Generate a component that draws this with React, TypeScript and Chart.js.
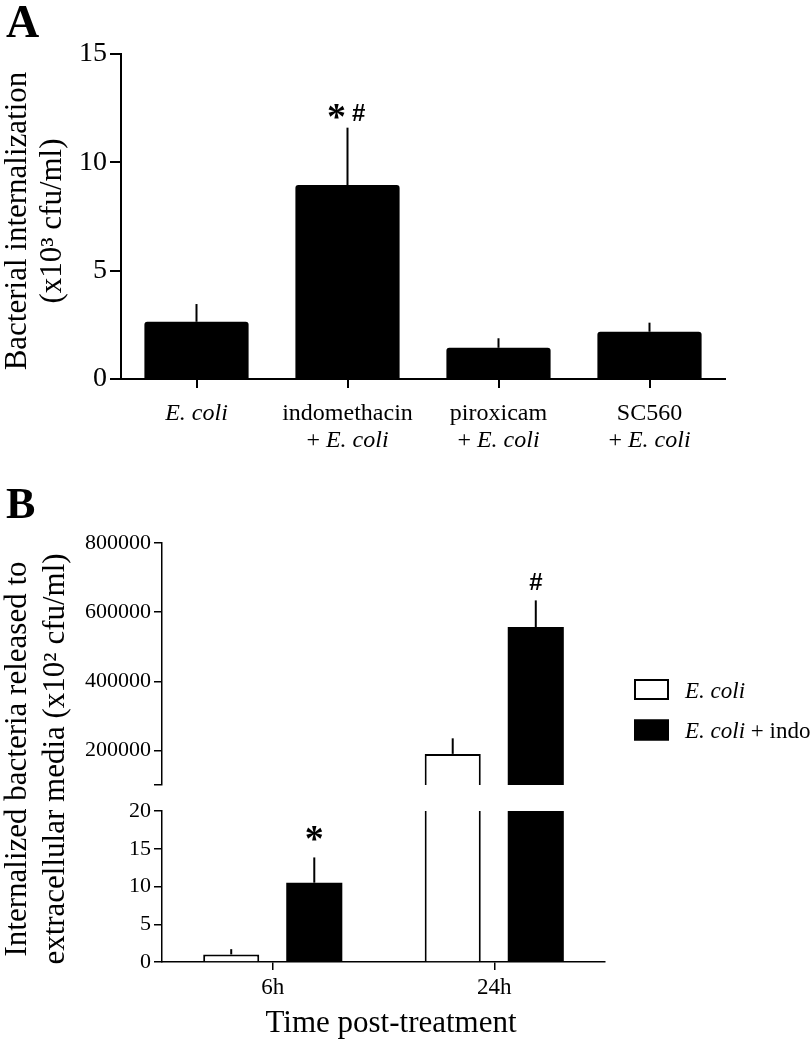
import React, { useEffect, useRef } from "react";
import { Chart, registerables } from "chart.js";

Chart.register(...registerables);

const SERIF = "'Liberation Serif', 'Times New Roman', serif";
const SANS = "'Liberation Sans', Arial, sans-serif";

// ---------- Panel A data ----------
// underscores mark italic runs, "\n" splits label lines
const aCategories = ["_E. coli_", "indomethacin\n+ _E. coli_", "piroxicam\n+ _E. coli_", "SC560\n+ _E. coli_"];
const aValues = [2.64, 8.95, 1.44, 2.18];
const aErrors = [0.82, 2.65, 0.44, 0.42];
const aMarks = ["", "*#", "", ""];
const aTicks = [0, 5, 10, 15];
const aTitle = ["Bacterial internalization", "(x10³ cfu/ml)"];

// ---------- Panel B data ----------
const bCategories = ["6h", "24h"];
const bSeries = ["_E. coli_", "_E. coli_ + indo"];
const bEcoli = [1.0, 190000];
const bEcoliErr = [0.7, 45000];
const bIndo = [10.5, 557000];
const bIndoErr = [3.35, 77000];
const bEcoliMarks = ["", ""];
const bIndoMarks = ["*", "#"];
const bUpperRange = [100000, 800000];
const bUpperTicks = [200000, 400000, 600000, 800000];
const bLowerRange = [0, 20];
const bLowerTicks = [0, 5, 10, 15, 20];
const bTitle = ["Internalized bacteria released to", "extracellular media (x10² cfu/ml)"];
const bXTitle = "Time post-treatment";

// ---------- helpers ----------
function richWidth(ctx: CanvasRenderingContext2D, text: string, size: number) {
  let w = 0;
  text.split("_").forEach((p, i) => {
    ctx.font = `${i % 2 ? "italic " : ""}${size}px ${SERIF}`;
    w += ctx.measureText(p).width;
  });
  return w;
}

function drawRich(ctx: CanvasRenderingContext2D, text: string, x: number, y: number, size: number, align: "center" | "left") {
  const w = richWidth(ctx, text, size);
  let cx = align === "center" ? x - w / 2 : x;
  ctx.textAlign = "left";
  ctx.textBaseline = "alphabetic";
  text.split("_").forEach((p, i) => {
    ctx.font = `${i % 2 ? "italic " : ""}${size}px ${SERIF}`;
    ctx.fillText(p, cx, y);
    cx += ctx.measureText(p).width;
  });
}

function drawRotatedTitle(ctx: CanvasRenderingContext2D, lines: string[], baselines: number[], cy: number, size: number) {
  lines.forEach((line, i) => {
    ctx.save();
    ctx.translate(baselines[i], cy);
    ctx.rotate(-Math.PI / 2);
    ctx.font = `${size}px ${SERIF}`;
    ctx.fillStyle = "#000";
    ctx.textAlign = "center";
    ctx.textBaseline = "alphabetic";
    ctx.fillText(line, 0, 0);
    ctx.restore();
  });
}

const GLYPH_FONT: Record<string, string> = {
  "*": `bold 38px ${SERIF}`,
  "#": `bold 24px ${SANS}`,
};

function drawGlyphCentered(ctx: CanvasRenderingContext2D, g: string, cx: number, cy: number) {
  ctx.font = GLYPH_FONT[g] || `bold 20px ${SANS}`;
  ctx.textAlign = "left";
  ctx.textBaseline = "alphabetic";
  const m = ctx.measureText(g);
  const l = m.actualBoundingBoxLeft, r = m.actualBoundingBoxRight;
  const a = m.actualBoundingBoxAscent, d = m.actualBoundingBoxDescent;
  const x = cx - (r - l) / 2;
  const y = cy - (d - a) / 2;
  ctx.fillText(g, x, y);
}

const errorBarPlugin = {
  id: "errorBars",
  afterDatasetsDraw(chart: any, _args: any, opts: any) {
    const { ctx, chartArea } = chart;
    const y = chart.scales.y;
    ctx.save();
    ctx.beginPath();
    ctx.rect(chartArea.left, chartArea.top, chartArea.right - chartArea.left, chartArea.bottom - chartArea.top);
    ctx.clip();
    ctx.strokeStyle = "#000";
    ctx.lineWidth = opts.width || 2;
    chart.data.datasets.forEach((ds: any, i: number) => {
      const meta = chart.getDatasetMeta(i);
      meta.data.forEach((el: any, j: number) => {
        const v = ds.data[j];
        const e = ds.errors[j];
        const top = y.getPixelForValue(v + e);
        const base = y.getPixelForValue(v);
        ctx.beginPath();
        ctx.moveTo(el.x, base);
        ctx.lineTo(el.x, top);
        ctx.stroke();
      });
    });
    ctx.restore();
  },
};

const marksPlugin = {
  id: "marks",
  afterDatasetsDraw(chart: any, _args: any, opts: any) {
    const { ctx, chartArea } = chart;
    const y = chart.scales.y;
    ctx.save();
    ctx.fillStyle = "#000";
    chart.data.datasets.forEach((ds: any, i: number) => {
      const meta = chart.getDatasetMeta(i);
      meta.data.forEach((el: any, j: number) => {
        const mark: string = (ds.marks && ds.marks[j]) || "";
        if (!mark) return;
        const top = y.getPixelForValue(ds.data[j] + ds.errors[j]);
        if (top < chartArea.top - 80 || top > chartArea.bottom) return;
        const n = mark.length;
        mark.split("").forEach((g, k) => {
          const cx = el.x + (k - (n - 1) / 2) * opts.spread;
          const cy = top - (opts.gap[g] || 16);
          drawGlyphCentered(ctx, g, cx, cy);
        });
      });
    });
    ctx.restore();
  },
};

const axisStyle = (lw: number, tl: number) => ({
  grid: { display: true, drawOnChartArea: false, drawTicks: true, tickLength: tl, color: "#000", lineWidth: lw },
  border: { display: true, color: "#000", width: lw },
});

function makeA(): any {
  return {
    type: "bar",
    data: {
      labels: aCategories,
      datasets: [
        {
          data: aValues,
          errors: aErrors,
          marks: aMarks,
          backgroundColor: "#000",
          borderWidth: 0,
          borderRadius: 3,
          categoryPercentage: 1,
          barPercentage: 0.69,
          clip: 0,
        },
      ],
    },
    options: {
      responsive: false,
      animation: false,
      devicePixelRatio: 1,
      layout: { padding: { left: 0, top: 54, right: 87, bottom: 570 } },
      plugins: {
        legend: { display: false },
        tooltip: { enabled: false },
        errorBars: { width: 2 },
        marks: { spread: 22, gap: { "*": 16, "#": 15 } },
      },
      scales: {
        x: {
          offset: true,
          ...axisStyle(2, 9),
          grid: { ...axisStyle(2, 9).grid, offset: false },
          ticks: { display: false },
          afterFit: (s: any) => {
            s.height = 91;
          },
        },
        y: {
          min: 0,
          max: 15,
          ...axisStyle(2, 11),
          afterBuildTicks: (s: any) => {
            s.ticks = aTicks.map((value) => ({ value }));
          },
          ticks: { font: { family: SERIF, size: 28 }, color: "#000", padding: 3, callback: (v: any) => String(v) },
          afterFit: (s: any) => {
            s.width = 121;
          },
        },
      },
    },
    plugins: [
      errorBarPlugin,
      marksPlugin,
      {
        id: "panelA",
        afterDraw(chart: any) {
          const { ctx, chartArea } = chart;
          ctx.save();
          ctx.fillStyle = "#000";
          ctx.font = `bold 46px ${SERIF}`;
          ctx.textAlign = "left";
          ctx.textBaseline = "alphabetic";
          ctx.fillText("A", 6, 37);
          drawRotatedTitle(ctx, aTitle, [25.5, 61], 221, 31);
          const xs = chart.scales.x;
          chart.data.labels.forEach((lab: string, i: number) => {
            const x = xs.getPixelForTick(i);
            lab.split("\n").forEach((line, k) => {
              ctx.fillStyle = "#000";
              drawRich(ctx, line, x, chartArea.bottom + 41 + k * 26.7, 24, "center");
            });
          });
          ctx.restore();
        },
      },
    ],
  };
}

function bDatasets() {
  return [
    {
      label: bSeries[0],
      data: bEcoli,
      errors: bEcoliErr,
      marks: bEcoliMarks,
      backgroundColor: "#fff",
      borderColor: "#000",
      borderWidth: 2,
      categoryPercentage: 0.75,
      barPercentage: 0.675,
      clip: 0,
    },
    {
      label: bSeries[1],
      data: bIndo,
      errors: bIndoErr,
      marks: bIndoMarks,
      backgroundColor: "#000",
      borderColor: "#000",
      borderWidth: 0,
      categoryPercentage: 0.75,
      barPercentage: 0.675,
      clip: 0,
    },
  ];
}

function makeBTop(): any {
  return {
    type: "bar",
    data: { labels: bCategories, datasets: bDatasets() },
    options: {
      responsive: false,
      animation: false,
      devicePixelRatio: 1,
      layout: { padding: { left: 0, top: 543, right: 207, bottom: 255 } },
      plugins: {
        legend: { display: false },
        tooltip: { enabled: false },
        errorBars: { width: 2 },
        marks: { spread: 22, gap: { "*": 24, "#": 19 } },
      },
      scales: {
        x: { display: false, offset: true },
        y: {
          min: bUpperRange[0],
          max: bUpperRange[1],
          ...axisStyle(1.5, 8),
          afterBuildTicks: (s: any) => {
            s.ticks = [bUpperRange[0], ...bUpperTicks].map((value) => ({ value }));
          },
          ticks: {
            font: { family: SERIF, size: 22 },
            color: "#000",
            padding: 3,
            callback: (v: any) => (bUpperTicks.includes(v) ? String(v) : ""),
          },
          afterFit: (s: any) => {
            s.width = 162;
          },
        },
      },
    },
    plugins: [
      errorBarPlugin,
      marksPlugin,
      {
        id: "legendB",
        afterDraw(chart: any) {
          const { ctx } = chart;
          ctx.save();
          ctx.font = `bold 44px ${SERIF}`;
          ctx.fillStyle = "#000";
          ctx.textAlign = "left";
          ctx.textBaseline = "alphabetic";
          ctx.fillText("B", 6, 518);
          chart.data.datasets.forEach((ds: any, i: number) => {
            const y0 = 679 + i * 40.5;
            ctx.fillStyle = ds.backgroundColor;
            ctx.fillRect(634, y0, 35, 21);
            ctx.strokeStyle = "#000";
            ctx.lineWidth = 2;
            ctx.strokeRect(635, y0 + 1, 33, 19);
            ctx.fillStyle = "#000";
            drawRich(ctx, ds.label, 685, y0 + 18.7, 23, "left");
          });
          ctx.restore();
        },
      },
    ],
  };
}

function makeBBottom(): any {
  return {
    type: "bar",
    data: { labels: bCategories, datasets: bDatasets() },
    options: {
      responsive: false,
      animation: false,
      devicePixelRatio: 1,
      layout: { padding: { left: 0, top: 811, right: 207, bottom: 0 } },
      plugins: {
        legend: { display: false },
        tooltip: { enabled: false },
        errorBars: { width: 2 },
        marks: { spread: 22, gap: { "*": 24, "#": 19 } },
      },
      scales: {
        x: {
          offset: true,
          ...axisStyle(1.5, 8),
          grid: { ...axisStyle(1.5, 8).grid, offset: false },
          ticks: { font: { family: SERIF, size: 23 }, color: "#000", padding: 4 },
          afterFit: (s: any) => {
            s.height = 78;
          },
        },
        y: {
          min: bLowerRange[0],
          max: bLowerRange[1],
          ...axisStyle(1.5, 8),
          afterBuildTicks: (s: any) => {
            s.ticks = bLowerTicks.map((value) => ({ value }));
          },
          ticks: { font: { family: SERIF, size: 22 }, color: "#000", padding: 3, callback: (v: any) => String(v) },
          afterFit: (s: any) => {
            s.width = 162;
          },
        },
      },
    },
    plugins: [
      errorBarPlugin,
      marksPlugin,
      {
        id: "titlesB",
        afterDraw(chart: any) {
          const { ctx } = chart;
          ctx.save();
          drawRotatedTitle(ctx, bTitle, [25.5, 64.4], 759, 31);
          ctx.font = `31px ${SERIF}`;
          ctx.fillStyle = "#000";
          ctx.textAlign = "center";
          ctx.textBaseline = "alphabetic";
          ctx.fillText(bXTitle, 391, 1032);
          ctx.restore();
        },
      },
    ],
  };
}

export default function App() {
  const aRef = useRef<HTMLCanvasElement>(null);
  const bTopRef = useRef<HTMLCanvasElement>(null);
  const bBotRef = useRef<HTMLCanvasElement>(null);

  useEffect(() => {
    const charts: Chart[] = [];
    if (aRef.current) charts.push(new Chart(aRef.current, makeA()));
    if (bTopRef.current) charts.push(new Chart(bTopRef.current, makeBTop()));
    if (bBotRef.current) charts.push(new Chart(bBotRef.current, makeBBottom()));
    return () => charts.forEach((c) => c.destroy());
  }, []);

  const cs: React.CSSProperties = { position: "absolute", left: 0, top: 0, width: 812, height: 1040 };
  return (
    <div style={{ position: "absolute", left: 0, top: 0, width: 812, height: 1040, background: "#fff", overflow: "hidden" }}>
      <canvas ref={aRef} width={812} height={1040} style={cs} />
      <canvas ref={bTopRef} width={812} height={1040} style={cs} />
      <canvas ref={bBotRef} width={812} height={1040} style={cs} />
    </div>
  );
}
